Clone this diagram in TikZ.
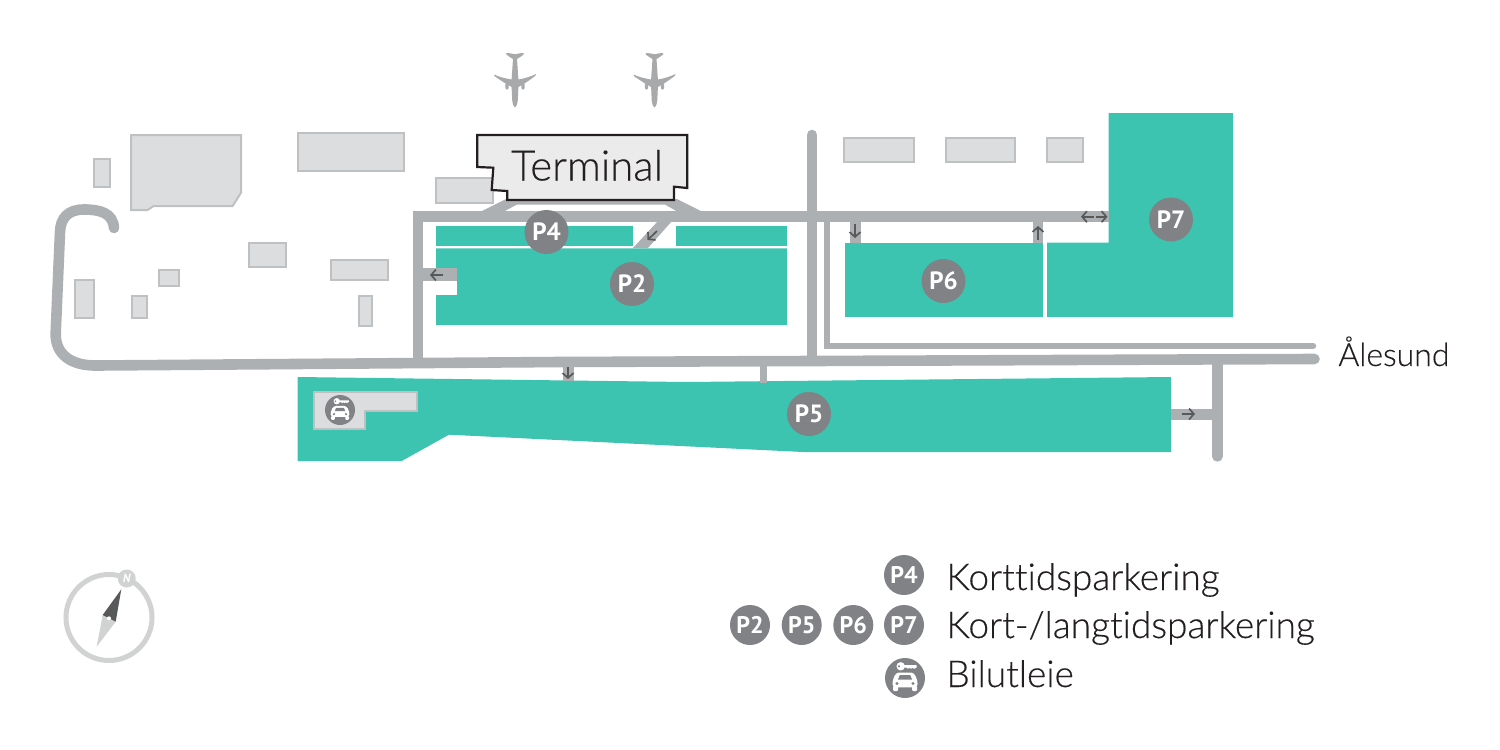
\documentclass[tikz,border=0pt]{standalone}
\usepackage{fontspec}
\usetikzlibrary{arrows.meta}
\setmainfont{Lato}
\newfontfamily\lightfont[Ligatures=NoCommon,FakeBold=0.35]{Lato Light}
\newfontfamily\badgefont{PT Sans}
\definecolor{parkteal}{HTML}{3CC4B1}
\definecolor{roadgrey}{HTML}{ADB0B2}
\definecolor{bldfill}{HTML}{DCDDDE}
\definecolor{bldline}{HTML}{BEC0C2}
\definecolor{badgegrey}{HTML}{808285}
\definecolor{planegrey}{HTML}{A7A9AB}
\definecolor{arrowgrey}{HTML}{58595B}
\definecolor{compassgrey}{HTML}{D1D2D2}
\definecolor{termfill}{HTML}{EBEBEC}
\definecolor{termline}{HTML}{231F20}
\tikzset{
  x=0.5pt,y=-0.5pt,
  road/.style={draw=roadgrey,line width=5.3pt,line join=miter},
  roadfill/.style={fill=roadgrey,draw=none},
  park/.style={fill=parkteal,draw=none},
  bld/.style={fill=bldfill,draw=bldline,line width=1pt},
  flow/.style={draw=arrowgrey,line width=0.85pt,-{Straight Barb[length=2.4pt,width=5.5pt,line width=0.85pt]}},
  badge/.style={circle,fill=badgegrey,text=white,inner sep=0pt,minimum size=22pt,font=\badgefont\bfseries\fontsize{12.5}{13}\selectfont},
  lbadge/.style={circle,fill=badgegrey,text=white,inner sep=0pt,minimum size=20pt,font=\badgefont\bfseries\fontsize{12}{12}\selectfont},
  legendtext/.style={anchor=base west,inner sep=0pt,text=termline,font=\lightfont\fontsize{18.5}{20}\selectfont},
  pics/plane/.style={code={
    \fill[planegrey] (0,-25.7) .. controls (-3,-26.5) and (-6,-27) .. (-8.7,-27) -- (-8.7,-25.5) .. controls (-6,-23.5) and (-4,-22) .. (-2,-21)
      -- (-3.4,-0.5) .. controls (-10,-1.5) and (-17,-3.5) .. (-21,-5.5) -- (-20.3,-3.7) .. controls (-15,0) and (-9,4) .. (-3.4,7)
      -- (-2.8,20) .. controls (-2.2,25) and (-1,27.5) .. (0,27.5)
      .. controls (1,27.5) and (2.2,25) .. (2.8,20) -- (3.4,7) .. controls (9,4) and (15,0) .. (20.3,-4.2) -- (21,-6)
      .. controls (17,-4) and (10,-1.5) .. (3.4,-0.5) -- (2,-21) .. controls (4,-22) and (6,-23.5) .. (8.7,-25.5) -- (8.7,-27) .. controls (6,-27) and (3,-26.5) .. (0,-25.7) -- cycle;
    \fill[planegrey,rounded corners=0.8pt] (-9.7,2.5) rectangle (-6.3,9.7);
    \fill[planegrey,rounded corners=0.8pt] (6.3,2.5) rectangle (9.7,9.7);
  }},
  pics/carkey/.style={code={
    \fill[badgegrey] (0,0) circle (#1);
    \begin{scope}[scale=#1/20]
      \fill[white] (-4.3,-11.7) circle (4.2);
      \fill[badgegrey] (-6,-11.7) circle (1.2);
      \fill[white] (-2,-13) -- (11.7,-13) -- (11.7,-10.6) -- (9,-9.2) -- (7.5,-10.4) -- (6,-9.2) -- (4.5,-10.4) -- (3,-9.2) -- (1.5,-10.4) -- (-2,-10.4) -- cycle;
      \fill[white,rounded corners=1.5pt] (-12.5,9.3) -- (-12.5,2.5) -- (-8.8,-5.5) -- (8.8,-5.5) -- (12.5,2.5) -- (12.5,9.3) -- cycle;
      \fill[white,rounded corners=0.5pt] (-12,8) rectangle (-7,13);
      \fill[white,rounded corners=0.5pt] (7,8) rectangle (12,13);
      \fill[badgegrey] (-7,1.5) -- (-5.2,-3) -- (5.2,-3) -- (7,1.5) -- cycle;
      \fill[badgegrey] (-8,5.5) circle (1.6);
      \fill[badgegrey] (8,5.5) circle (1.6);
    \end{scope}
  }},
}
\begin{document}
\begin{tikzpicture}
\useasboundingbox (0,0) rectangle (1500,750);
\fill[white] (0,0) rectangle (1500,750);

% buildings
\draw[bld] (94,159) rectangle (109.5,187);
\draw[bld] (131,135.2) -- (241,135.2) -- (241,192.7) -- (232.5,206.2) -- (153.3,206.2) -- (147.3,210.2) -- (131,210.2) -- cycle;
\draw[bld] (298,133.2) rectangle (403.5,170.8);
\draw[bld] (436,178.2) rectangle (493,202.5);
\draw[bld] (249.2,242.8) rectangle (286.2,266.5);
\draw[bld] (331.2,259.8) rectangle (387.5,280.2);
\draw[bld] (159.2,270.2) rectangle (179,285.8);
\draw[bld] (74.5,280.2) rectangle (94.2,317.5);
\draw[bld] (131.5,296.2) rectangle (147.2,317.5);
\draw[bld] (358.8,296.2) rectangle (371.5,325.5);
\draw[bld] (844.2,138.2) rectangle (913.8,162.2);
\draw[bld] (945.8,138.2) rectangle (1015.2,162.2);
\draw[bld] (1046.5,138.2) rectangle (1083,162.2);

% parking areas
\fill[park] (436,225.7) rectangle (633,245.7);
\fill[park] (676,225.7) rectangle (787,245.7);
\fill[park] (436,248.3) -- (787,248.3) -- (787,325) -- (436,325) -- (436,295) -- (457,295) -- (457,268) -- (436,268) -- cycle;
\fill[park] (844.7,242.7) rectangle (1043,317);
\fill[park] (1108.7,113) -- (1233,113) -- (1233,317) -- (1047,317) -- (1047,242.7) -- (1108.7,242.7) -- cycle;
\fill[park] (297.7,377) -- (686,382) -- (1171,377) -- (1171,452) -- (803,452) -- (449,434.7) -- (401.7,461) -- (297.7,461) -- cycle;

% roads
\draw[road,line cap=round] (114,228) .. controls (113,213) and (100,209.5) .. (84,209.5) .. controls (68,209.5) and (60.5,218) .. (60,232)
  -- (55.7,333) .. controls (55,355) and (72,366) .. (97,365.5) -- (560,362) -- (1314.5,359);
\draw[road] (418,358) -- (418,216.7) -- (1109,216.7);
\draw[road,line cap=round] (812,135) -- (812,360);
\draw[draw=roadgrey,line width=3.2pt,line cap=round] (827,217) -- (827,346) -- (1313,346);
\draw[road,line cap=round] (1217.3,362) -- (1217.3,456.4);
\fill[roadfill] (1171,409) rectangle (1217,419.5);
\fill[roadfill] (759.5,363) rectangle (766.5,382.5);
\fill[roadfill] (563,363) rectangle (573.5,380.5);
\fill[roadfill] (423,268) rectangle (457,280.5);
\fill[roadfill] (850,220) rectangle (860.7,242.7);
\fill[roadfill] (1032.7,220) rectangle (1043,242.7);
\fill[roadfill] (480,212) -- (506,199) -- (677,199) -- (703,212) -- (678,212) -- (665,204.5) -- (517,204.5) -- (503,212) -- cycle;
\fill[roadfill] (633,248) -- (658,221) -- (672,221) -- (648,248) -- cycle;

% flow arrows
\coordinate (a1s) at (443,275); \coordinate (a1e) at (430,275);
\draw[flow] (a1s) -- (a1e);
\coordinate (a2s) at (657,231); \coordinate (a2e) at (647.5,240);
\draw[flow] (a2s) -- (a2e);
\coordinate (a3s) at (568,367); \coordinate (a3e) at (568,379);
\draw[flow] (a3s) -- (a3e);
\coordinate (a4s) at (855,224); \coordinate (a4e) at (855,238);
\draw[flow] (a4s) -- (a4e);
\coordinate (a5s) at (1038,240); \coordinate (a5e) at (1038,226);
\draw[flow] (a5s) -- (a5e);
\coordinate (a6s) at (1093.5,216.7); \coordinate (a6e) at (1081,216.7);
\draw[flow] (a6s) -- (a6e);
\coordinate (a7s) at (1096,216.7); \coordinate (a7e) at (1107.5,216.7);
\draw[flow] (a7s) -- (a7e);
\coordinate (a8s) at (1182,414); \coordinate (a8e) at (1195,414);
\draw[flow] (a8s) -- (a8e);

% planes
\pic at (515,80) {plane};
\pic at (654.5,80) {plane};

% terminal
\draw[fill=termfill,draw=termline,line width=1.1pt] (477.3,135) -- (687.3,135) -- (687.3,188) -- (674,186.7) -- (674,200) -- (507.3,200) -- (507.3,191) -- (491.7,190) -- (493.3,167.7) -- (477.3,167) -- cycle;
\node[anchor=base,inner sep=0pt,text=termline,font=\lightfont\fontsize{21}{23}\selectfont] (terminal) at (587,180.5) {Terminal};

% car rental
\draw[bld] (313.5,391.5) -- (416.5,391.5) -- (416.5,411.2) -- (365.2,411.2) -- (365.2,428.5) -- (313.5,428.5) -- cycle;
\pic at (340,410) {carkey=15};

% badges
\node[badge] (p4) at (546.5,232) {P4};
\node[badge] (p2) at (632,284) {P2};
\node[badge] (p6) at (943.5,281) {P6};
\node[badge] (p7) at (1171,219.5) {P7};
\node[badge] (p5) at (809,414) {P5};

% Alesund
\node[legendtext,font=\lightfont\fontsize{16}{18}\selectfont] (alesund) at (1338,366) {Ålesund};

% legend
\node[lbadge] (l4) at (904,575) {P4};
\node[lbadge] (l2) at (750,625) {P2};
\node[lbadge] (l5) at (801.7,625) {P5};
\node[lbadge] (l6) at (853.3,625) {P6};
\node[lbadge] (l7) at (904,625) {P7};
\pic at (905,678) {carkey=20};
\node[legendtext] (t1) at (946,590) {Korttidsparkering};
\node[legendtext] (t2) at (946,638) {Kort-/langtidsparkering};
\node[legendtext] (t3) at (946,687) {Bilutleie};

% compass
\draw[compassgrey,line width=2.5pt] (109,617.5) circle (43);
\node[circle,fill=compassgrey,inner sep=0pt,minimum size=9pt,text=white,font=\badgefont\bfseries\itshape\fontsize{6}{6}\selectfont] (north) at (126.7,578.5) {N};
\fill[compassgrey] (102.7,615) -- (115.7,621.7) -- (96.7,646.7) -- cycle;
\fill[arrowgrey] (121.3,589.3) -- (102.7,615) -- (115.7,621.7) -- cycle;
\fill[white] (109,618.3) circle (2);
\end{tikzpicture}
\end{document}
